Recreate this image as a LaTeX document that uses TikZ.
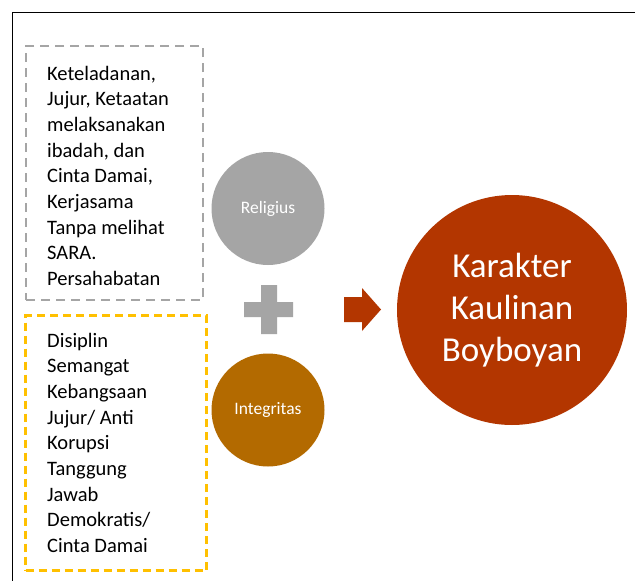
\documentclass[tikz,border=0pt]{standalone}
\usepackage{fontspec}
\setmainfont{Carlito}
\definecolor{cgray}{HTML}{A5A5A5}
\definecolor{cgold}{HTML}{FFC000}
\definecolor{cbrown}{HTML}{B36A00}
\definecolor{crust}{HTML}{B33600}
\tikzset{
  listtext/.style={anchor=base west, inner sep=0pt, text width=150pt, align=flush left,
    font=\fontsize{20.5}{25.7}\selectfont},
  graydash/.style={draw=cgray, line width=2.5pt, dash pattern=on 9pt off 6pt, minimum width=177pt, minimum height=254pt, inner sep=0pt},
  golddash/.style={draw=cgold, line width=2.5pt, dash pattern=on 8pt off 5pt, minimum width=181pt, minimum height=255pt, inner sep=0pt},
  smallcirc/.style={circle, minimum size=113pt, inner sep=0pt, text=white, font=\fontsize{17.5}{21}\selectfont},
  bigcirc/.style={circle, fill=crust, minimum size=230pt, inner sep=0pt, text=white, align=center, font=\fontsize{35}{42}\selectfont},
}
\begin{document}
\begin{tikzpicture}[x=1pt,y=-1pt]
\useasboundingbox (0,0) rectangle (635,581);
\fill[white] (0,0) rectangle (635,581);
% outer frame
\coordinate (fbl) at (12.5,582);
\coordinate (ftl) at (12.5,12.5);
\coordinate (ftr) at (636,12.5);
\draw[line width=1.8pt] (fbl) -- (ftl) -- (ftr);
% dashed boxes
\node[graydash] (boxA) at (114.5,173) {};
\node[golddash] (boxB) at (116,443) {};
% texts
\node[listtext] (tA) at (47,80) {Keteladanan,\\Jujur, Ketaatan\\melaksanakan\\ibadah, dan\\Cinta Damai,\\Kerjasama\\Tanpa melihat\\SARA.\\Persahabatan};
\node[listtext] (tB) at (47,347) {Disiplin\\Semangat\\Kebangsaan\\Jujur/ Anti\\Korupsi\\Tanggung\\Jawab\\Demokratis/\\Cinta Damai};
% circles
\node[smallcirc, fill=cgray] (rel) at (268,208.5) {Religius};
\node[smallcirc, fill=cbrown] (integ) at (268,410) {Integritas};
\node[bigcirc] (kar) at (512,310) {Karakter\\Kaulinan\\Boyboyan};
% plus sign
\fill[cgray] (261,285) -- (277,285) -- (277,302) -- (293,302) -- (293,317) -- (277,317)
  -- (277,334) -- (261,334) -- (261,317) -- (244,317) -- (244,302) -- (261,302) -- cycle;
% block arrow
\fill[crust] (344,297) -- (362,297) -- (362,288) -- (381,309.5) -- (362,331) -- (362,322) -- (344,322) -- cycle;
\end{tikzpicture}
\end{document}
